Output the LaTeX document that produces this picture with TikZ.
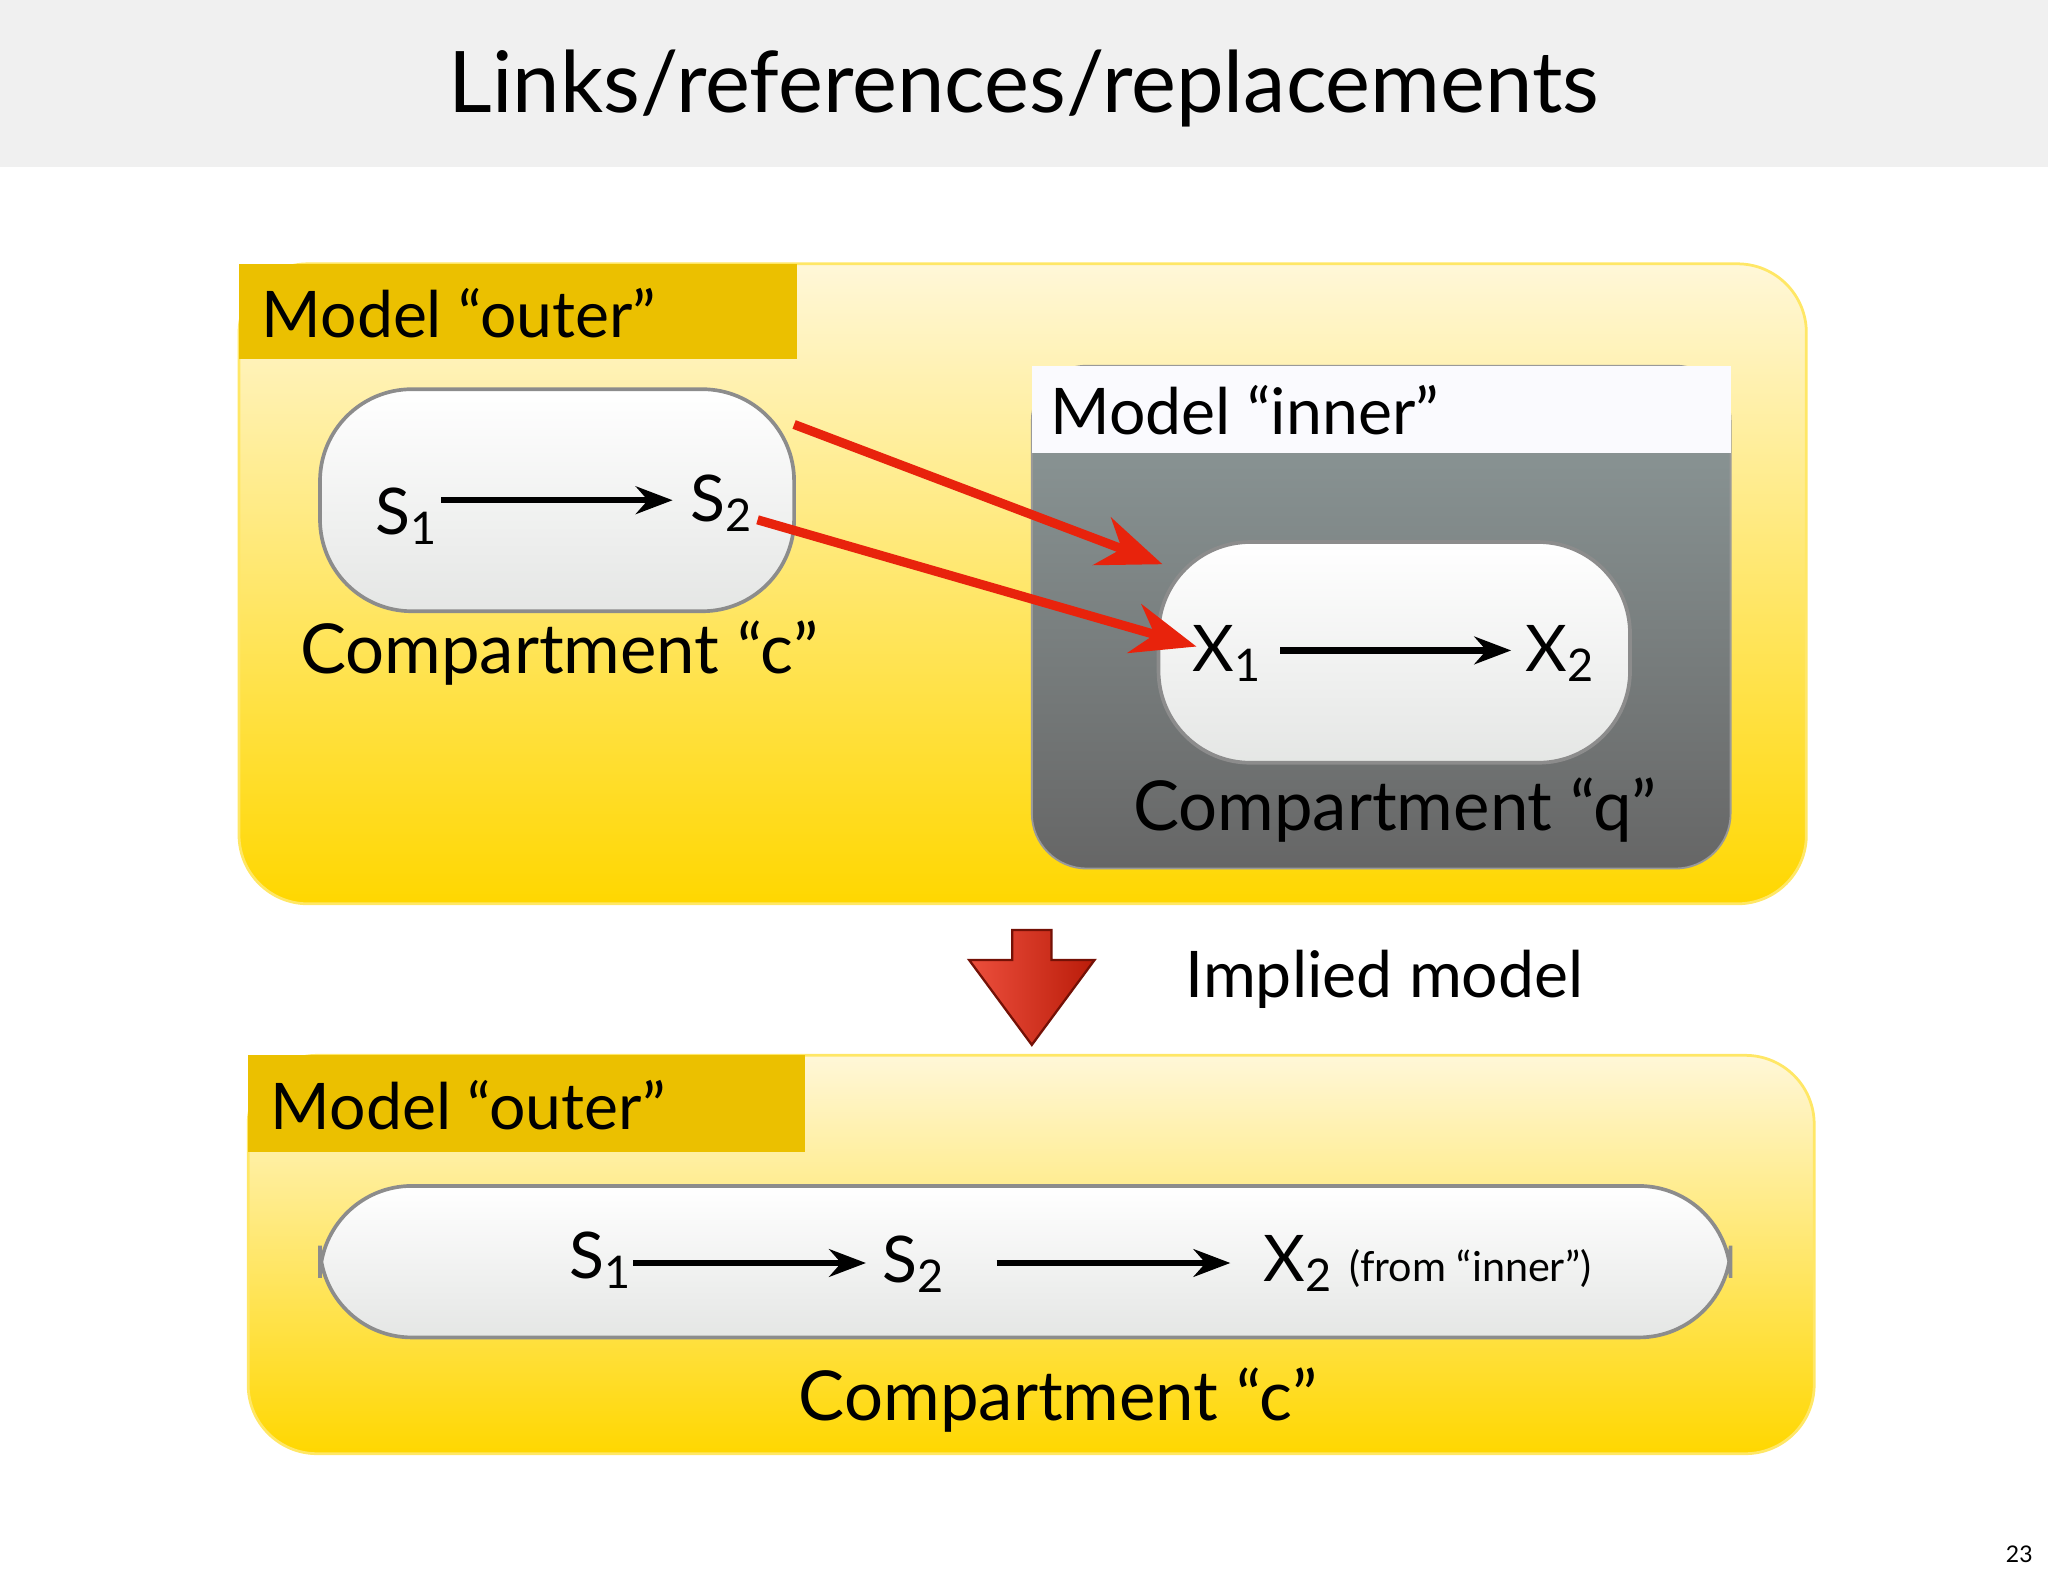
\documentclass[tikz,border=0pt]{standalone}
\usepackage{fontspec}
\setmainfont{Lato}
\usetikzlibrary{arrows.meta}
\definecolor{tab}{HTML}{EBC000}
\definecolor{ytop}{HTML}{FFF7D8}
\definecolor{ybot}{HTML}{FFD700}
\definecolor{rd}{HTML}{E8230C}
\begin{document}
\begin{tikzpicture}[x=0.01cm,y=-0.01cm,
  model/.style={rounded corners=15, top color=ytop, bottom color=ybot, draw=ybot!60!white, line width=0.6pt},
  comp/.style={rounded corners=20, top color=white, bottom color=black!4!green!3!gray!20, draw=black!45, line width=0.8pt},
  lbl/.style={anchor=west, font=\fontsize{14}{16}\selectfont},
  sp/.style={font=\fontsize{14}{16}\selectfont, inner sep=1pt},
  cl/.style={font=\fontsize{15}{17}\selectfont},
  rxn/.style={-{Stealth[length=8pt,width=6pt]}, line width=1.4pt},
  red/.style={-{Stealth[length=14pt,width=11pt]}, draw=rd, line width=2pt}]
\useasboundingbox (0,0) rectangle (1568,1207);
\fill[black!6] (0,0) rectangle (1568,128);
\node[font=\fontsize{18.5}{20}\selectfont] (title) at (784,68) {Links/references/replacements};
% top model
\path[model] (183,202) rectangle (1383,692);
\fill[tab] (183,202) rectangle (610,275);
\node[lbl] (m1) at (188,240) {Model “outer”};
\path[comp] (245,298) rectangle (608,468);
\node[sp] (s1) at (312,395) {S\textsubscript{1}};
\node[sp] (s2) at (553,385) {S\textsubscript{2}};
\draw[rxn] (338,383) -- (515,383);
\node[cl] (cc) at (428,500) {Compartment “c”};
% inner model
\path[rounded corners=12, top color=black!38!cyan!10!gray!80, bottom color=black!50!gray!80, draw=black!40] (790,280) rectangle (1325,665);
\fill[black!15!blue!2] (790,280) rectangle (1325,347);
\node[lbl] (m2) at (792,314) {Model “inner”};
\path[comp] (887,415) rectangle (1248,584);
\node[sp] (x1) at (940,500) {X\textsubscript{1}};
\node[sp] (x2) at (1195,500) {X\textsubscript{2}};
\draw[rxn] (980,498) -- (1157,498);
\node[cl] (cq) at (1068,620) {Compartment “q”};
\coordinate (a1) at (608,325); \coordinate (b1) at (890,432);
\coordinate (a2) at (580,398); \coordinate (b2) at (916,495);
\draw[red] (a1) -- (b1);
\draw[red] (a2) -- (b2);
% down arrow
\path[left color=rd!80!white, right color=rd!80!black, draw=rd!50!black, line width=0.5pt]
 (775,712) -- (805,712) -- (805,735) -- (838,735) -- (790,800) -- (742,735) -- (775,735) -- cycle;
\node[font=\fontsize{14}{16}\selectfont] (im) at (1060,750) {Implied model};
% bottom model
\path[model] (190,808) rectangle (1389,1113);
\fill[tab] (190,808) rectangle (616,882);
\node[lbl] (m3) at (195,846) {Model “outer”};
\path[comp] (245,908) rectangle (1325,1024);
\node[sp] (t1) at (460,965) {S\textsubscript{1}};
\node[sp] (t2) at (700,968) {S\textsubscript{2}};
\node[sp,anchor=west] (t3) at (963,967) {X\textsubscript{2} {\fontsize{9}{10}\selectfont(from “inner”)}};
\draw[rxn] (485,967) -- (663,967);
\draw[rxn] (763,967) -- (942,967);
\node[cl] (cc2) at (810,1072) {Compartment “c”};
\node[font=\fontsize{5}{6}\selectfont] (pg) at (1546,1190) {23};
\end{tikzpicture}
\end{document}
